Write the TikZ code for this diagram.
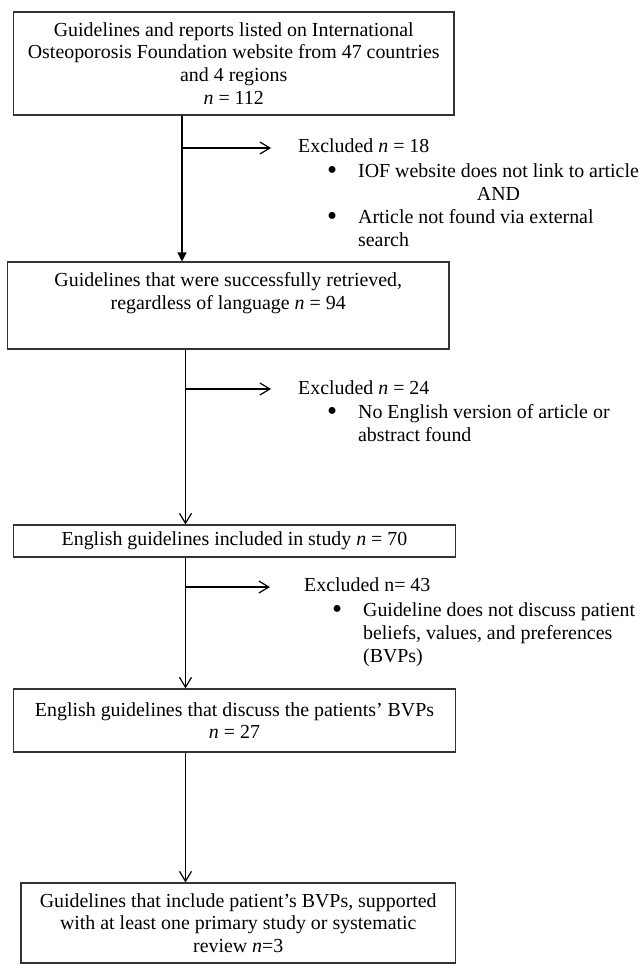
\documentclass[tikz,border=0pt]{standalone}
\usepackage{fontspec}
\setmainfont{Liberation Serif}
\usetikzlibrary{arrows.meta}
\tikzset{
  box/.style={draw=black!80, line width=1.1pt, rectangle, inner sep=0pt, align=center},
  flow/.style={line width=1.2pt, -{Straight Barb[length=10pt,width=12pt]}},
  firstflow/.style={line width=1.2pt, -{Triangle[length=9pt,width=9pt]}},
  excl/.style={inner sep=0pt, anchor=base west},
}
\newcommand{\bigdot}{\raisebox{-1.8pt}{\scalebox{1.45}{\textbullet}}}
\newcommand{\exitems}[1]{\begin{tabular}[t]{@{}c@{\hspace{20.95pt}}l@{}}#1\end{tabular}}

\begin{document}
\begin{tikzpicture}[x=1pt, y=-1pt, font=\fontsize{19.9pt}{22.8pt}\selectfont]
  \useasboundingbox (0,0) rectangle (641,965);
  % Boxes of the flow
  \node (guide) [box, minimum width=440.5pt, minimum height=103pt] at (233.75,63.5)
    {Guidelines and reports listed on International\\
     Osteoporosis Foundation website from 47 countries\\
     and 4 regions\\
     \textit{n} = 112};
  \node (retr) [box, minimum width=441.5pt, minimum height=87pt] at (228.25,305.5)
    {Guidelines that were successfully retrieved,\\
     regardless of language \textit{n} = 94\\ \strut};
  \node (eng) [box, minimum width=442pt, minimum height=32pt] at (234.5,541)
    {English guidelines included in study \textit{n} = 70};
  \node (bvp) [box, minimum width=442pt, minimum height=63pt] at (234.5,720.5)
    {English guidelines that discuss the patients' BVPs\\
     \textit{n} = 27};
  \node (prim) [box, minimum width=434.5pt, minimum height=80pt] at (238.25,923)
    {Guidelines that include patient's BVPs, supported\\
     with at least one primary study or systematic\\
     review \textit{n}=3};
  % Main line
  \coordinate (t1) at (182,0);
  \coordinate (t2) at (185.5,0);
  \draw[firstflow] (guide.south -| t1) -- (retr.north -| t1);
  \draw[flow] (retr.south -| t2) -- (eng.north -| t2);
  \draw[flow] (eng.south -| t2) -- (bvp.north -| t2);
  \draw[flow] (bvp.south -| t2) -- (prim.north -| t2);
  % Side arrows to the exclusions
  \coordinate (s1) at (182,148);
  \coordinate (e1) at (271,148);
  \coordinate (s2) at (185.5,389);
  \coordinate (e2) at (271,389);
  \coordinate (s3) at (185.5,587);
  \coordinate (e3) at (270,587);
  \draw[flow] (s1) -- (e1);
  \draw[flow] (s2) -- (e2);
  \draw[flow] (s3) -- (e3);
  % Exclusions
  \node (ex1) [excl] at (298,152.7) {Excluded \textit{n} = 18};
  \node (ex1list) [excl] at (326.9,177.7) {\exitems{%
    \bigdot & IOF website does not link to article\\
    & \multicolumn{1}{c}{AND}\\
    \bigdot & Article not found via external\\
    & search}};
  \node (ex2) [excl] at (298,394) {Excluded \textit{n} = 24};
  \node (ex2list) [excl] at (326.9,418.3) {\exitems{%
    \bigdot & No English version of article or\\
    & abstract found}};
  \node (ex3) [excl] at (304,591) {Excluded n= 43};
  \node (ex3list) [excl] at (331.9,616.7) {\exitems{%
    \bigdot & Guideline does not discuss patient\\
    & beliefs, values, and preferences\\
    & (BVPs)}};
\end{tikzpicture}
\end{document}
